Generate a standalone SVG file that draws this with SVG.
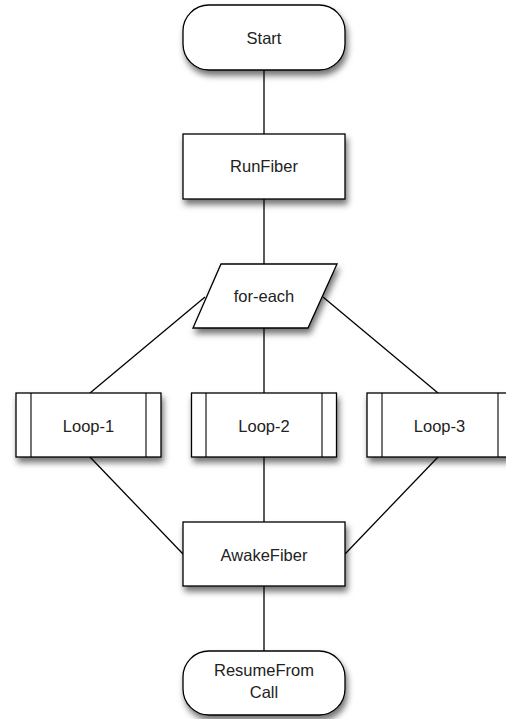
<svg xmlns="http://www.w3.org/2000/svg" width="506" height="719" viewBox="0 0 506 719">
<defs>
<filter id="sh" x="-20%" y="-20%" width="150%" height="160%">
<feDropShadow dx="2" dy="5" stdDeviation="3" flood-color="#000" flood-opacity="0.55"/>
</filter>
<style>
.n{fill:#fff;stroke:#000;stroke-width:1.3;filter:url(#sh)}
.i{fill:none;stroke:#000;stroke-width:1.1}
.c{fill:none;stroke:#000;stroke-width:1.3}
text{font-family:"Liberation Sans",Arial,Helvetica,sans-serif;font-size:16.5px;fill:#222;text-anchor:middle}
</style>
</defs>
<rect width="506" height="719" fill="#fff"/>
<g id="connectors">
<line class="c" x1="264" y1="70" x2="264" y2="134"/>
<line class="c" x1="264" y1="199" x2="264" y2="264"/>
<line class="c" x1="264" y1="328" x2="264" y2="393"/>
<line class="c" x1="205" y1="297" x2="90" y2="393"/>
<line class="c" x1="323" y1="297" x2="438" y2="393"/>
<line class="c" x1="264" y1="457" x2="264" y2="522"/>
<line class="c" x1="90" y1="457" x2="183" y2="554"/>
<line class="c" x1="438" y1="457" x2="345" y2="554"/>
<line class="c" x1="264" y1="586" x2="264" y2="651"/>
</g>
<g id="start">
<rect class="n" x="183" y="5" width="162" height="65" rx="26" ry="26"/>
<text x="264" y="44">Start</text>
</g>
<g id="runfiber">
<rect class="n" x="183" y="134" width="162" height="65"/>
<text x="264" y="172">RunFiber</text>
</g>
<g id="foreach">
<polygon class="n" points="221,264 337,264 308,328 193,328"/>
<text x="264" y="302">for-each</text>
</g>
<g id="loop1">
<rect class="n" x="16" y="393" width="145" height="64"/>
<line class="i" x1="31" y1="393" x2="31" y2="457"/>
<line class="i" x1="146" y1="393" x2="146" y2="457"/>
<text x="88.5" y="432">Loop-1</text>
</g>
<g id="loop2">
<rect class="n" x="191.5" y="393" width="145" height="64"/>
<line class="i" x1="206" y1="393" x2="206" y2="457"/>
<line class="i" x1="322" y1="393" x2="322" y2="457"/>
<text x="264" y="432">Loop-2</text>
</g>
<g id="loop3">
<rect class="n" x="367" y="393" width="146" height="64"/>
<line class="i" x1="382" y1="393" x2="382" y2="457"/>
<line class="i" x1="498" y1="393" x2="498" y2="457"/>
<text x="439.5" y="432">Loop-3</text>
</g>
<g id="awakefiber">
<rect class="n" x="183" y="522" width="162" height="64"/>
<text x="264" y="561">AwakeFiber</text>
</g>
<g id="resume">
<rect class="n" x="183" y="651" width="162" height="64" rx="26" ry="26"/>
<text x="264" y="676">ResumeFrom</text>
<text x="264" y="698">Call</text>
</g>
</svg>
